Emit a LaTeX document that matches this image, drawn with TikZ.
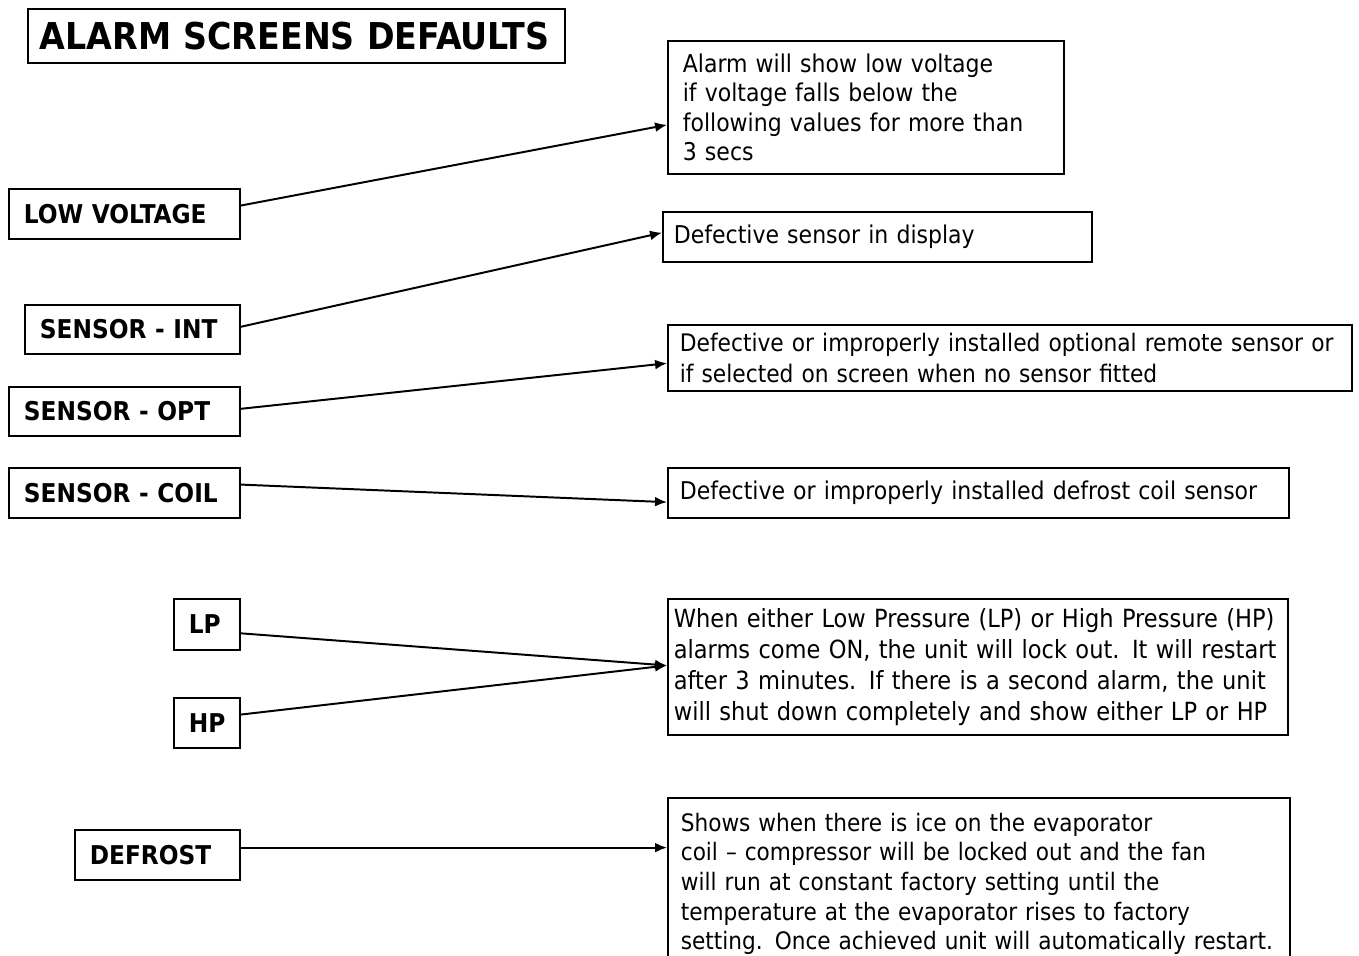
\documentclass[tikz,border=0pt]{standalone}
\usepackage{fontspec}
\setmainfont{DejaVu Sans Condensed}
\usetikzlibrary{arrows.meta,calc}

\newlength\pxu
\setlength\pxu{0.025cm}
\newcommand\notefont{\fontsize{17.4}{21}\selectfont}
\newcommand\tagfont{\bfseries\fontsize{18.4}{21}\selectfont}

\tikzset{
  box/.style={draw, line width=1.2pt, anchor=north west, align=left, inner ysep=0pt},
  tag/.style={box, font=\tagfont, inner xsep=15\pxu},
  note/.style={box, font=\notefont, inner xsep=13\pxu},
  link/.style={line width=1.4pt, -{Latex[length=8.5pt,width=7pt]}}
}

\begin{document}
\begin{tikzpicture}[x=0.025cm, y=-0.025cm]
  \useasboundingbox (0,0) rectangle (1359,955);
  \clip (0,0) rectangle (1359,955);

  % heading
  \node[tag, font=\bfseries\fontsize{26.3}{30}\selectfont, inner xsep=12\pxu,
        text width=513\pxu, minimum height=54\pxu] (title) at (27,8) {ALARM SCREENS DEFAULTS};

  % alarm names
  \node[tag, text width=201\pxu, minimum height=50\pxu] (lowv) at (8,188) {LOW VOLTAGE};
  \node[tag, text width=185\pxu, minimum height=49\pxu] (sint) at (24,304) {SENSOR - INT};
  \node[tag, text width=201\pxu, minimum height=49\pxu] (sopt) at (8,386) {SENSOR - OPT};
  \node[tag, text width=201\pxu, minimum height=50\pxu] (scoil) at (8,467) {SENSOR - COIL};
  \node[tag, text width=36\pxu, minimum height=51\pxu] (lp) at (173,598) {LP};
  \node[tag, text width=36\pxu, minimum height=50\pxu] (hp) at (173,697) {HP};
  \node[tag, text width=135\pxu, minimum height=50\pxu] (defr) at (74,829) {DEFROST};

  % descriptions
  \node[note, inner xsep=15\pxu, text width=366\pxu, minimum height=133\pxu] (lowtxt) at (667,40)
    {Alarm will show low voltage\\if voltage falls below the\\following values for more than\\3 secs};
  \node[note, inner xsep=11\pxu, text width=407\pxu, minimum height=50\pxu] (inttxt) at (662,211)
    {Defective sensor in display};
  \node[note, font=\fontsize{17.2}{22}\selectfont, inner xsep=12\pxu, text width=660\pxu, minimum height=66\pxu] (opttxt) at (667,324)
    {Defective or improperly installed optional remote sensor or\\if selected on screen when no sensor fitted};
  \node[note, inner xsep=12\pxu, text width=597\pxu, minimum height=50\pxu] (coiltxt) at (667,467)
    {Defective or improperly installed defrost coil sensor};
  \node[note, inner xsep=6\pxu, font=\fontsize{17.8}{22}\selectfont, text width=608\pxu, minimum height=136\pxu] (prestxt) at (667,598)
    {When either Low Pressure (LP) or High Pressure (HP)\\alarms come ON, the unit will lock out. It will restart\\after 3 minutes. If there is a second alarm, the unit\\will shut down completely and show either LP or HP};
  \node[note, inner xsep=13\pxu, font=\fontsize{17.1}{21}\selectfont, text width=596\pxu, minimum height=172\pxu] (deftxt) at (667,797)
    {Shows when there is ice on the evaporator\\coil -- compressor will be locked out and the fan\\will run at constant factory setting until the\\temperature at the evaporator rises to factory\\setting. Once achieved unit will automatically restart.};

  % arrows
  \draw[link] ($(lowv.north east)!0.34!(lowv.south east)$) -- ($(lowtxt.north west)!0.63!(lowtxt.south west)$);
  \draw[link] ($(sint.north east)!0.45!(sint.south east)$) -- ($(inttxt.north west)!0.42!(inttxt.south west)$);
  \draw[link] ($(sopt.north east)!0.45!(sopt.south east)$) -- ($(opttxt.north west)!0.58!(opttxt.south west)$);
  \draw[link] ($(scoil.north east)!0.34!(scoil.south east)$) -- ($(coiltxt.north west)!0.68!(coiltxt.south west)$);
  \draw[link] ($(lp.north east)!0.67!(lp.south east)$) -- ($(prestxt.north west)!0.49!(prestxt.south west)$);
  \draw[link] ($(hp.north east)!0.34!(hp.south east)$) -- ($(prestxt.north west)!0.49!(prestxt.south west)$);
  \coordinate (defout) at ($(defr.north east)!0.36!(defr.south east)$);
  \draw[link] (defout) -- (defout -| deftxt.west);
\end{tikzpicture}
\end{document}
